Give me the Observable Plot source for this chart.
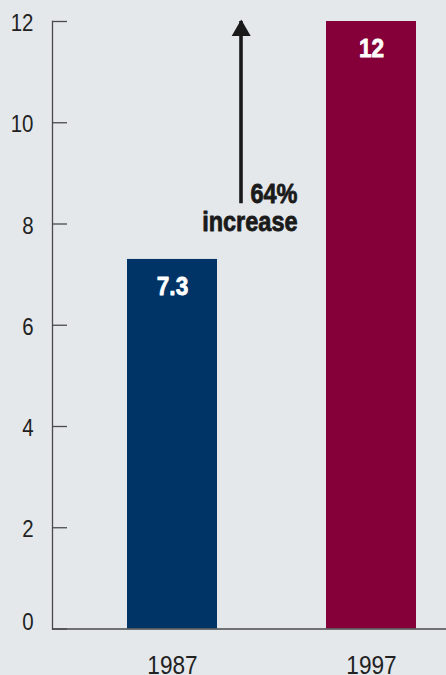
<!DOCTYPE html>
<html>
<head>
<meta charset="utf-8">
<script src="https://cdn.jsdelivr.net/npm/d3@7"></script>
<script src="https://cdn.jsdelivr.net/npm/@observablehq/plot@0.6"></script>
<style>
  html, body { margin: 0; padding: 0; background: #e4e8eb; overflow: hidden; }
  #chart svg { display: block; }
</style>
</head>
<body>
<div id="chart"></div>
<script>
const years = ["1987", "1997"];
const values = [7.3, 12];
const barColors = ["#003366", "#850038"];
const yTicks = [0, 2, 4, 6, 8, 10, 12];
const arrowFrom = 8.4;
const arrowTo = 12;
const noteLines = ["64%", "increase"];

const data = years.map((year, i) => ({year, value: values[i], color: barColors[i]}));
const font = "'Liberation Sans', Arial, Helvetica, sans-serif";

const chart = Plot.plot({
  width: 446,
  height: 675,
  marginLeft: 52,
  marginRight: 0,
  marginTop: 21,
  marginBottom: 46.5,
  style: {background: "#e4e8eb", fontFamily: font, color: "#222", overflow: "hidden"},
  x: {domain: years, range: [127, 416], paddingInner: 0.548, paddingOuter: 0, label: null},
  y: {domain: [0, 12], label: null},
  marks: [
    Plot.barY(data, {x: "year", y: "value", fill: "color"}),
    Plot.frame({anchor: "left", stroke: "#4a4a4a", strokeWidth: 1.3}),
    Plot.ruleY([0], {stroke: "#4a4a4a", strokeWidth: 1.3}),
    Plot.axisY(yTicks, {tickSize: -15, stroke: "#4a4a4a", strokeWidth: 1.3, text: null, label: null}),
    Plot.axisY(yTicks.filter(t => t !== 0), {tickSize: 0, tickPadding: 19, tickFormat: d => String(d), fontSize: 23.5, fill: "#222", dy: 2, label: null}),
    Plot.axisY(yTicks.filter(t => t === 0), {tickSize: 0, tickPadding: 19, tickFormat: d => String(d), fontSize: 23.5, fill: "#222", dy: -7, label: null}),
    Plot.axisX({tickSize: 0, tickPadding: 26.5, fontSize: 26, fill: "#222", label: null}),
    Plot.text(data, {x: "year", y: "value", text: d => String(d.value), fill: "white", stroke: "white", strokeWidth: 0.8, fontSize: 26, fontWeight: "bold", lineAnchor: "top", dy: 17.5}),
    Plot.ruleX([years[0]], {y1: arrowFrom, y2: arrowTo, dx: 68.5, stroke: "#1a1a1a", strokeWidth: 3.6}),
    Plot.dot([years[0]], {x: d => d, y: arrowTo, dx: 68.7, dy: 9, symbol: "triangle", r: 7.05, fill: "#1a1a1a", stroke: "none"}),
    Plot.text([noteLines.join("\n")], {x: () => years[0], y: arrowFrom, text: d => d, dx: 125, dy: -21, textAnchor: "end", lineAnchor: "top", fontSize: 27, fontWeight: "bold", fill: "#1a1a1a", stroke: "#1a1a1a", strokeWidth: 0.8, lineHeight: 1.04})
  ]
});
document.getElementById("chart").appendChild(chart);

// Condense glyphs horizontally to mimic a narrow typeface (text stays text).
const squeeze = 0.87;
chart.querySelectorAll("text").forEach(el => {
  const b = el.getBBox();
  const anchor = getComputedStyle(el).textAnchor;
  const ax = anchor === "end" ? b.x + b.width : anchor === "middle" ? b.x + b.width / 2 : b.x;
  const prev = el.getAttribute("transform") || "";
  el.setAttribute("transform", `${prev} translate(${ax},0) scale(${squeeze},1) translate(${-ax},0)`.trim());
});
</script>
</body>
</html>
